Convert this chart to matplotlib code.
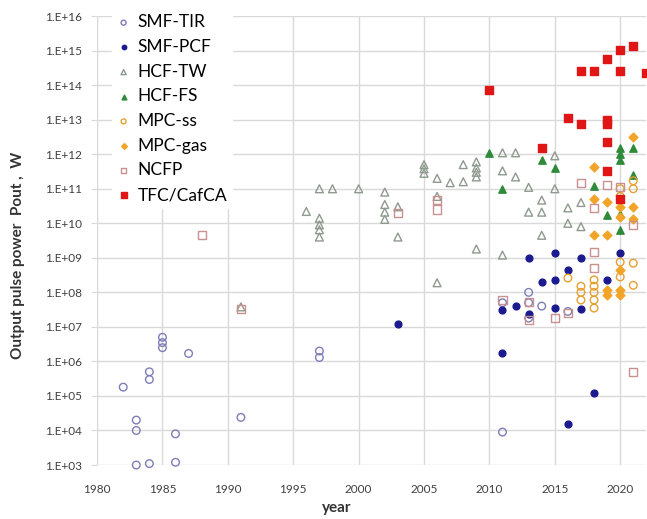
import math
import matplotlib
matplotlib.use("Agg")
import matplotlib.pyplot as plt
from matplotlib.ticker import FixedLocator, FuncFormatter, NullLocator

plt.rcParams["font.family"] = ["Lato", "DejaVu Sans"]

# output pulse power (W) vs. publication year, per source type
smf_tir_year = [1982, 1983, 1983, 1983, 1984, 1984, 1984, 1985, 1985, 1985, 1986, 1986,
                1987, 1991, 1997, 1997, 2011, 2011, 2013, 2013, 2013, 2014, 2016]
smf_tir_pow = [1.8e5, 2e4, 1e4, 1e3, 5e5, 3e5, 1.1e3, 5e6, 3.5e6, 2.5e6, 8e3, 1.2e3,
               1.7e6, 2.4e4, 2e6, 1.3e6, 5e7, 9e3, 1e8, 5e7, 1.8e7, 4e7, 2.8e7]

smf_pcf_year = [2003, 2011, 2011, 2012, 2013, 2013, 2014, 2015, 2015, 2015, 2016, 2016,
                2017, 2017, 2018, 2019, 2020]
smf_pcf_pow = [1.2e7, 1.7e6, 3e7, 4e7, 2.4e7, 1e9, 2e8, 1.4e9, 2.3e8, 3.5e7, 4.5e8, 1.5e4,
               1e9, 3.2e7, 1.2e5, 2.3e8, 1.4e9]

hcf_tw_year = [1991, 1996, 1997, 1997, 1997, 1997, 1997, 1998, 2000, 2002, 2002, 2002, 2002,
               2003, 2003, 2005, 2005, 2005, 2006, 2006, 2006, 2007, 2008, 2008,
               2009, 2009, 2009, 2009, 2009, 2011, 2011, 2011, 2012, 2012, 2013, 2013,
               2014, 2014, 2014, 2015, 2015, 2016, 2016, 2017, 2017]
hcf_tw_pow = [3.8e7, 2.2e10, 1e11, 1.4e10, 9e9, 6.5e9, 4e9, 1e11, 1e11, 8e10, 3.5e10, 2.1e10, 1.3e10,
              3e10, 4e9, 5e11, 3.8e11, 2.8e11, 2e11, 6e10, 1.9e8, 1.5e11, 5e11, 1.6e11,
              6e11, 4e11, 3e11, 2.2e11, 1.8e9, 1.1e12, 3.3e11, 1.2e9, 1.1e12, 2.2e11, 1.1e11, 2.1e10,
              4.7e10, 2.1e10, 4.5e9, 9e11, 1e11, 2.8e10, 1e10, 4e10, 8e9]

hcf_fs_year = [2010, 2011, 2014, 2015, 2018, 2019, 2020, 2020, 2020, 2020, 2020, 2021, 2021]
hcf_fs_pow = [1.1e12, 1e11, 7e11, 4e11, 1.2e11, 1.7e10, 1.5e12, 1e12, 7e11, 1.9e10, 6.5e9,
              1.5e12, 2.5e11]

mpc_ss_year = [2016, 2017, 2017, 2017, 2018, 2018, 2018, 2018, 2018, 2020, 2020, 2020, 2020,
               2021, 2021, 2021, 2021]
mpc_ss_pow = [2.6e8, 1.5e8, 1e8, 6e7, 2.3e8, 1.5e8, 1e8, 6e7, 3.5e7, 7.5e8, 2.8e8, 1e11, 6e10,
              7e8, 1.6e8, 1.7e11, 1e11]

mpc_gas_year = [2018, 2018, 2018, 2019, 2019, 2019, 2019, 2020, 2020, 2020, 2020, 2020,
                2021, 2021, 2021]
mpc_gas_pow = [4.3e11, 5e10, 4.6e9, 4e10, 4.6e9, 1.2e8, 8.5e7, 4.5e8, 1.2e8, 8.5e7, 3e10, 1.5e10,
               3.1e12, 3e10, 1.3e10]

ncfp_year = [1988, 1991, 2003, 2006, 2006, 2011, 2013, 2013, 2015, 2016, 2017, 2018, 2018, 2018,
             2019, 2020, 2021, 2021]
ncfp_pow = [4.6e9, 3.2e7, 2e10, 4.6e10, 2.5e10, 6e7, 5.4e7, 1.6e7, 1.8e7, 2.5e7, 1.5e11,
            2.8e10, 1.5e9, 5e8, 1.3e11, 1.1e11, 9e9, 5e5]

tfc_year = [2010, 2014, 2016, 2017, 2017, 2018, 2019, 2019, 2019, 2019, 2019, 2020, 2020, 2020,
            2021, 2022]
tfc_pow = [7.4e13, 1.5e12, 1.1e13, 2.6e14, 7.5e12, 2.6e14, 5.9e14, 1e13, 7.5e12, 2.2e12, 3.3e11,
           1.07e15, 2.6e14, 5e10, 1.4e15, 2.3e14]

year_ticks = [1980, 1985, 1990, 1995, 2000, 2005, 2010, 2015, 2020]
pow_ticks = [10.0 ** k for k in range(3, 17)]

fig = plt.figure(figsize=(6.47, 5.19), dpi=100)
ax = fig.add_axes([0.150, 0.104, 0.849, 0.865])

series = [
    ("SMF-TIR", smf_tir_year, smf_tir_pow, "o", "none", "#7d7db8", 30),
    ("SMF-PCF", smf_pcf_year, smf_pcf_pow, "o", "#1b1b8f", "#1b1b8f", 24),
    ("HCF-TW", hcf_tw_year, hcf_tw_pow, "^", "none", "#8e9a8e", 32),
    ("HCF-FS", hcf_fs_year, hcf_fs_pow, "^", "#2f8a3a", "#2f8a3a", 28),
    ("MPC-ss", mpc_ss_year, mpc_ss_pow, "o", "none", "#e5a030", 30),
    ("MPC-gas", mpc_gas_year, mpc_gas_pow, "D", "#f2a428", "#f2a428", 20),
    ("NCFP", ncfp_year, ncfp_pow, "s", "none", "#c99090", 34),
    ("TFC/CafCA", tfc_year, tfc_pow, "s", "#e01515", "#e01515", 38),
]

for name, xs, ys, mk, fc, ec, size in series:
    ax.scatter(xs, ys, marker=mk, s=size, facecolors=fc, edgecolors=ec,
               linewidths=1.0, label=name, zorder=3, clip_on=False)

ax.set_yscale("log")
ax.set_xlim(1980, 2022)
ax.set_ylim(1e3, 1e16)
ax.xaxis.set_major_locator(FixedLocator(year_ticks))
ax.yaxis.set_major_locator(FixedLocator(pow_ticks))
ax.yaxis.set_minor_locator(NullLocator())
ax.yaxis.set_major_formatter(FuncFormatter(lambda v, p: "1.E+%02d" % round(math.log10(v))))

ax.grid(True, color="#d9d9d9", linewidth=1.0, zorder=0)
ax.set_axisbelow(True)
for side in ["top", "right", "left", "bottom"]:
    ax.spines[side].set_visible(False)
ax.tick_params(axis="y", length=4, color="#d9d9d9", pad=7, labelsize=8.5, labelcolor="#404040")
ax.tick_params(axis="x", length=0, pad=14, labelsize=8.5, labelcolor="#404040")

leg = ax.legend(loc="upper left", bbox_to_anchor=(0.012, 1.035), fontsize=12.5,
                frameon=True, facecolor="white", edgecolor="white", framealpha=1.0,
                labelspacing=0.5, handlelength=0.7, handletextpad=0.45,
                borderpad=0.3, scatterpoints=1, markerscale=0.65)
leg.set_zorder(5)

fig.text(18 / 647, 1 - 255 / 519, "Output pulse power  Pout ,  W", rotation=90,
         ha="center", va="center", fontsize=11, fontweight="bold", color="#333333")
fig.text(337 / 647, 1 - 508 / 519, "year", ha="center", va="center",
         fontsize=11, fontweight="bold", color="#333333")

fig.savefig("out.png", dpi=100)
